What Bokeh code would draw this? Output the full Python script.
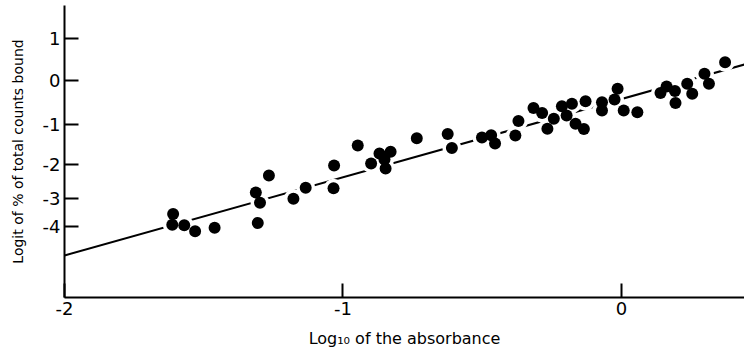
from bokeh.plotting import figure
from bokeh.models import FixedTicker, Range1d, ColumnDataSource
from bokeh.embed import file_html
from bokeh.resources import INLINE

# ---- data (plot coordinates) ----
log_absorbance = [-1.610, -1.613, -1.570, -1.531, -1.461, -1.313, -1.298, -1.306,
                  -1.266, -1.178, -1.134, -1.032, -1.034, -0.947, -0.899, -0.869,
                  -0.829, -0.851, -0.847, -0.735, -0.624, -0.609, -0.501, -0.468,
                  -0.454, -0.381, -0.370, -0.316, -0.285, -0.266, -0.243, -0.214,
                  -0.178, -0.197, -0.165, -0.135, -0.129, -0.070, -0.070, -0.014,
                  -0.025, 0.008, 0.057, 0.140, 0.162, 0.192, 0.194, 0.236,
                  0.254, 0.298, 0.314, 0.372]
logit_bound = [-3.179, -3.433, -3.445, -3.588, -3.505, -2.667, -2.912, -3.393,
               -2.262, -2.817, -2.555, -2.024, -2.564, -1.548, -1.976, -1.738,
               -1.698, -1.881, -2.095, -1.376, -1.274, -1.607, -1.357, -1.302,
               -1.500, -1.310, -0.964, -0.655, -0.774, -1.150, -0.912, -0.614,
               -0.555, -0.833, -1.031, -1.155, -0.493, -0.517, -0.714, -0.198,
               -0.452, -0.714, -0.755, -0.298, -0.143, -0.250, -0.536, -0.079,
               -0.317, 0.159, -0.079, 0.436]

fit_slope = 1.8626
fit_intercept = -0.441

x_ticks = [-2, -1, 0]
x_tick_labels = ["-2", "-1", "0"]
y_ticks = [1.0, 0.0, -1.048, -2.0, -2.81, -3.476]
y_tick_labels = ["1", "0", "-1", "-2", "-3", "-4"]

x_min, x_max = -2.0, 0.4417
y_min, y_max = -5.167, 1.786

FONT = "DejaVu Sans"

p = figure(width=744, height=352, output_backend="svg", toolbar_location=None,
           x_range=Range1d(x_min, x_max), y_range=Range1d(y_min, y_max),
           min_border_left=64, min_border_right=0, min_border_top=5,
           min_border_bottom=55)
p.outline_line_color = None
p.xgrid.visible = False
p.ygrid.visible = False
p.background_fill_color = "white"
p.border_fill_color = "white"

# fitted line
fx = [x_min, x_max]
fy = [fit_intercept + fit_slope * v for v in fx]
p.line(fx, fy, line_color="black", line_width=2)

src = ColumnDataSource(dict(x=log_absorbance, y=logit_bound))
# white halo to break the line near points
p.scatter("x", "y", source=src, size=19, fill_color="white", line_color=None)
p.scatter("x", "y", source=src, size=12, fill_color="black", line_color=None)

for ax in (p.xaxis, p.yaxis):
    ax.axis_line_width = 2
    ax.axis_line_color = "black"
    ax.major_tick_line_width = 2
    ax.major_tick_line_color = "black"
    ax.major_tick_in = 14
    ax.major_tick_out = 0
    ax.minor_tick_line_color = None
    ax.major_label_text_font = FONT
    ax.major_label_text_font_size = "18px"
    ax.major_label_text_color = "black"
    ax.axis_label_text_font = FONT
    ax.axis_label_text_font_style = "normal"
    ax.axis_label_text_color = "black"

p.xaxis.ticker = FixedTicker(ticks=x_ticks)
p.xaxis.major_label_overrides = {t: l for t, l in zip(x_ticks, x_tick_labels)}
p.xaxis.major_label_standoff = 4
p.xaxis.axis_label = "Log\u2081\u2080 of the absorbance"
p.xaxis.axis_label_text_font_size = "16px"
p.xaxis.axis_label_standoff = 11

p.yaxis.ticker = FixedTicker(ticks=y_ticks)
p.yaxis.major_label_overrides = {t: l for t, l in zip(y_ticks, y_tick_labels)}
p.yaxis.major_label_standoff = 4
p.yaxis.axis_label = "Logit of % of total counts bound"
p.yaxis.axis_label_text_font_size = "14px"
p.yaxis.axis_label_standoff = 14

open("out.html", "w").write(file_html(p, INLINE))
